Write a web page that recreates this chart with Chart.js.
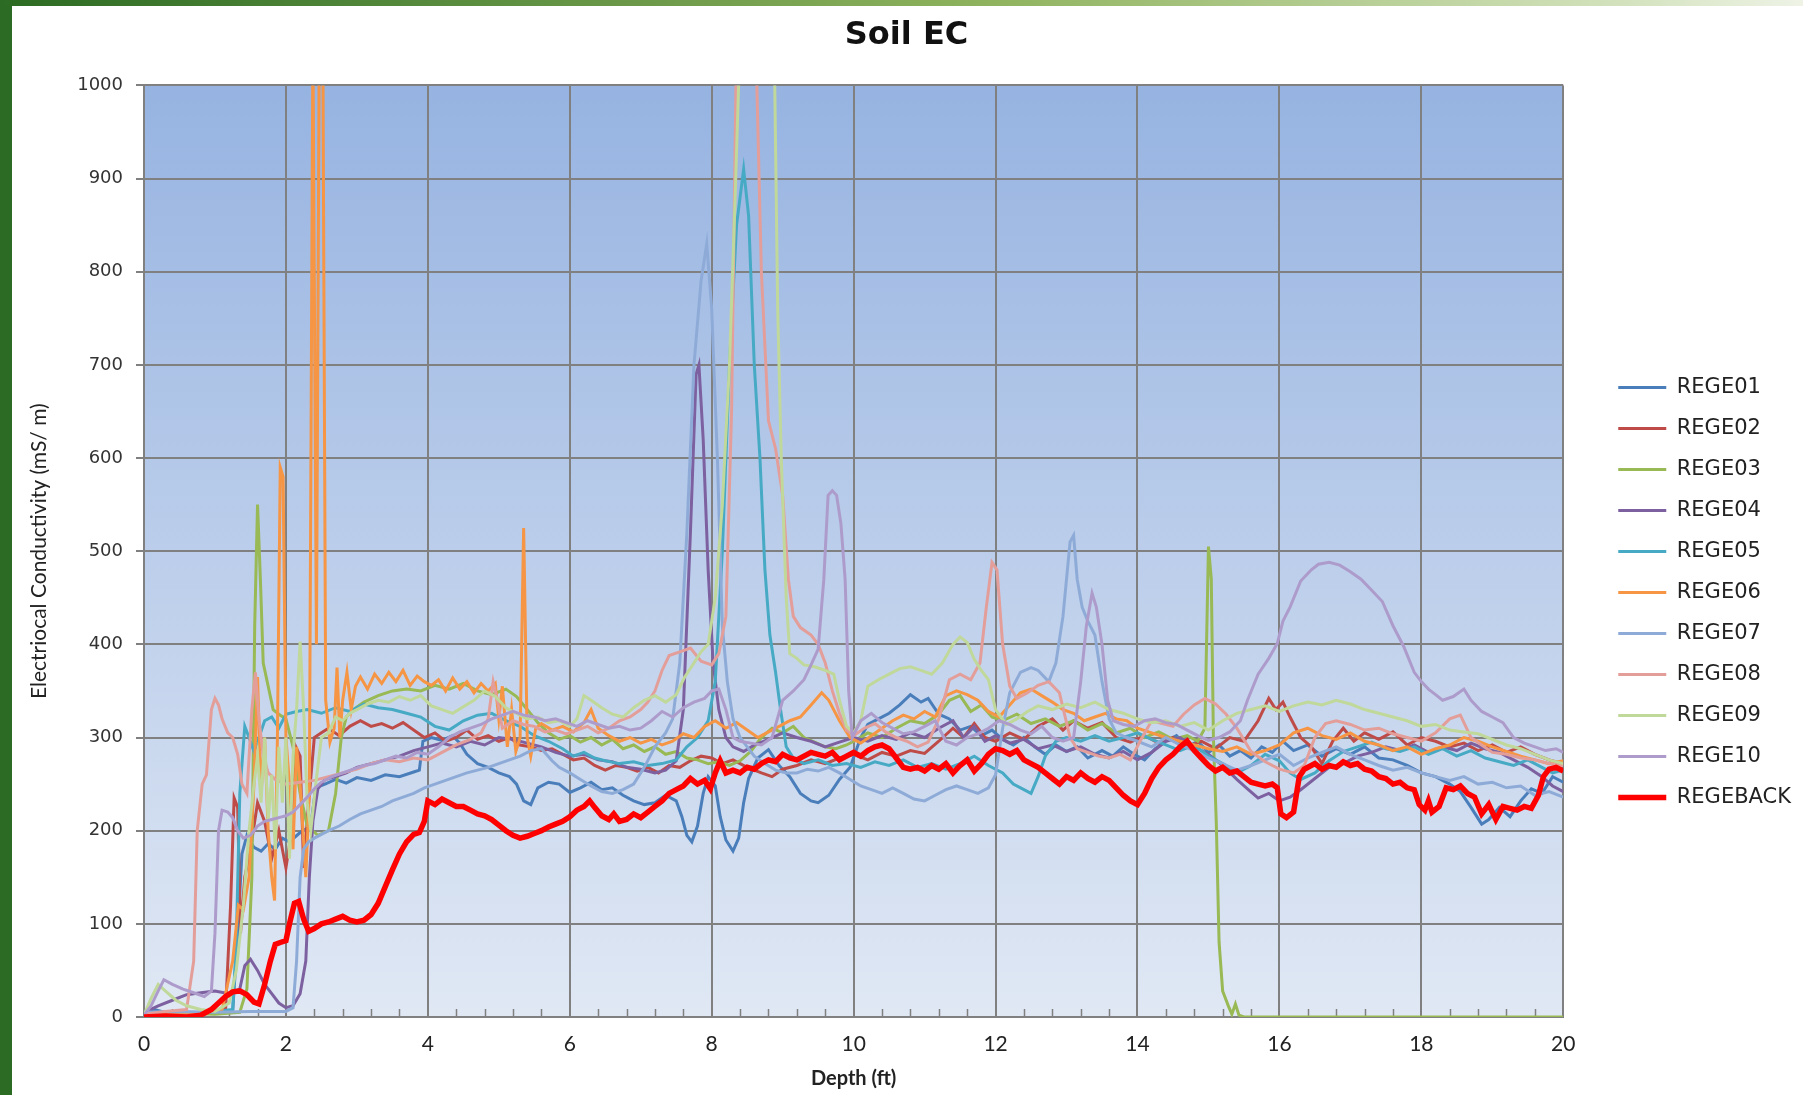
<!DOCTYPE html>
<html>
<head>
<meta charset="utf-8">
<title>Soil EC</title>
<script src="https://cdn.jsdelivr.net/npm/chart.js@4.4.1/dist/chart.umd.min.js"></script>
<style>
  html, body { margin: 0; padding: 0; background: #fff; }
  #wrap { position: relative; width: 1803px; height: 1095px; }
  #leftBar { position: absolute; left: 0; top: 0; width: 12px; height: 1095px; background: #2c6b23; }
  #topBar { position: absolute; left: 0; top: 0; width: 1803px; height: 6px;
            background: linear-gradient(to right, #2c6b23, #8fb35e 55%, #d3e2bd 90%, #eef3e6); }
</style>
</head>
<body>
<div id="wrap">
  <canvas id="chart"></canvas>
  <div id="leftBar"></div>
  <div id="topBar"></div>
</div>
<script>
// depth (ft), EC (mS/m) pairs
const rege01 = [[0,3],[0.15,8],[0.3,5],[0.6,3],[1.0,4],[1.25,6],[1.32,90],[1.38,175],[1.45,195],[1.55,182],[1.65,178],[1.75,186],[1.85,180],[1.95,192],[2.05,188],[2.2,198],[2.35,205],[2.42,246],[2.55,250],[2.7,255],[2.85,251],[3.0,257],[3.2,254],[3.4,260],[3.6,258],[3.8,263],[3.88,265],[3.93,296],[4.05,300],[4.2,297],[4.35,302],[4.45,294],[4.55,282],[4.7,272],[4.85,268],[5.0,262],[5.15,258],[5.25,250],[5.35,232],[5.45,228],[5.55,246],[5.7,252],[5.85,250],[6.0,241],[6.15,246],[6.3,252],[6.45,244],[6.6,246],[6.75,238],[6.9,232],[7.05,228],[7.2,230],[7.35,238],[7.5,232],[7.58,215],[7.65,195],[7.72,188],[7.8,205],[7.88,240],[7.95,258],[8.05,248],[8.12,215],[8.2,190],[8.3,178],[8.38,192],[8.45,230],[8.52,256],[8.65,278],[8.8,287],[8.95,270],[9.1,258],[9.25,240],[9.4,232],[9.5,230],[9.65,238],[9.8,255],[9.95,268],[10.1,300],[10.2,314],[10.35,320],[10.5,326],[10.65,335],[10.8,346],[10.95,338],[11.05,342],[11.2,325],[11.35,320],[11.5,308],[11.65,312],[11.8,302],[11.95,308],[12.1,298],[12.25,292],[12.4,300],[12.55,290],[12.7,282],[12.85,292],[13.0,285],[13.15,290],[13.3,278],[13.5,286],[13.65,280],[13.8,290],[13.95,282],[14.1,276],[14.25,288],[14.4,296],[14.55,302],[14.7,290],[14.85,296],[15.0,284],[15.15,292],[15.3,280],[15.45,286],[15.6,278],[15.75,290],[15.9,284],[16.05,296],[16.2,286],[16.4,292],[16.6,280],[16.8,288],[17.0,282],[17.2,290],[17.4,278],[17.6,276],[17.8,270],[18.0,262],[18.2,258],[18.4,250],[18.55,242],[18.7,225],[18.85,207],[18.95,212],[19.1,225],[19.25,215],[19.4,232],[19.55,245],[19.7,240],[19.85,258],[20,252]];
const rege02 = [[0,2],[0.4,4],[0.8,3],[1.15,8],[1.22,120],[1.27,235],[1.32,225],[1.36,90],[1.42,150],[1.5,180],[1.6,230],[1.7,210],[1.8,170],[1.9,200],[2.0,160],[2.08,200],[2.14,290],[2.2,280],[2.25,160],[2.32,230],[2.4,300],[2.5,305],[2.6,310],[2.75,302],[2.9,312],[3.05,318],[3.2,312],[3.35,315],[3.5,310],[3.65,316],[3.8,308],[3.95,300],[4.1,305],[4.25,296],[4.4,300],[4.55,308],[4.7,298],[4.85,302],[5.0,296],[5.15,300],[5.3,292],[5.45,290],[5.6,286],[5.75,288],[5.9,282],[6.05,276],[6.2,278],[6.35,270],[6.5,265],[6.65,270],[6.8,268],[6.95,264],[7.1,268],[7.25,262],[7.4,270],[7.55,268],[7.7,275],[7.85,280],[8.0,278],[8.15,272],[8.3,276],[8.5,268],[8.7,262],[8.85,258],[9.0,266],[9.2,270],[9.4,276],[9.6,272],[9.8,278],[10.0,282],[10.2,276],[10.4,284],[10.6,280],[10.8,286],[11.0,283],[11.2,296],[11.4,310],[11.55,300],[11.7,315],[11.85,300],[12.0,296],[12.2,305],[12.4,298],[12.6,312],[12.8,320],[12.95,308],[13.1,318],[13.3,310],[13.5,316],[13.7,300],[13.9,295],[14.1,302],[14.3,294],[14.5,300],[14.7,290],[14.9,296],[15.1,288],[15.3,300],[15.5,296],[15.7,318],[15.85,342],[15.95,330],[16.05,338],[16.15,322],[16.3,300],[16.45,290],[16.6,272],[16.75,296],[16.9,310],[17.05,296],[17.2,305],[17.4,298],[17.6,306],[17.8,292],[18.0,300],[18.2,296],[18.4,290],[18.6,294],[18.8,286],[19.0,292],[19.2,284],[19.4,290],[19.6,282],[19.8,276],[20,272]];
const rege03 = [[0,2],[0.5,4],[1.0,3],[1.35,5],[1.45,30],[1.52,150],[1.56,420],[1.6,550],[1.64,470],[1.68,380],[1.75,355],[1.82,330],[1.9,325],[2.0,320],[2.1,290],[2.2,240],[2.3,205],[2.45,195],[2.6,200],[2.7,240],[2.78,300],[2.85,322],[2.95,330],[3.1,338],[3.3,345],[3.5,350],[3.7,352],[3.9,350],[4.1,356],[4.3,352],[4.5,358],[4.7,350],[4.9,346],[5.1,352],[5.25,344],[5.4,330],[5.55,316],[5.7,305],[5.85,298],[6.0,302],[6.15,295],[6.3,300],[6.45,292],[6.6,298],[6.75,288],[6.9,292],[7.05,285],[7.2,290],[7.35,282],[7.5,285],[7.65,278],[7.8,276],[7.95,272],[8.1,274],[8.25,270],[8.4,275],[8.55,285],[8.7,300],[8.85,310],[9.0,305],[9.15,312],[9.3,300],[9.45,295],[9.6,290],[9.75,288],[9.9,292],[10.05,298],[10.2,305],[10.4,300],[10.6,310],[10.8,318],[11.0,315],[11.2,325],[11.35,340],[11.5,345],[11.65,328],[11.8,335],[11.95,322],[12.1,318],[12.3,325],[12.5,315],[12.7,320],[12.9,312],[13.1,318],[13.3,308],[13.5,315],[13.7,305],[13.9,310],[14.1,300],[14.3,306],[14.5,298],[14.7,302],[14.85,296],[14.95,310],[15.0,505],[15.04,470],[15.07,300],[15.11,210],[15.15,80],[15.2,28],[15.28,12],[15.33,3],[15.38,14],[15.43,2],[15.5,0],[20,0]];
const rege04 = [[0,5],[0.2,12],[0.4,18],[0.6,24],[0.8,26],[1.0,28],[1.2,25],[1.35,30],[1.42,55],[1.5,62],[1.6,50],[1.7,35],[1.8,25],[1.9,15],[2.0,10],[2.1,12],[2.2,25],[2.28,60],[2.33,150],[2.38,210],[2.45,245],[2.55,255],[2.7,258],[2.85,262],[3.0,268],[3.2,272],[3.4,276],[3.6,280],[3.8,286],[4.0,290],[4.2,294],[4.4,290],[4.6,296],[4.8,292],[5.0,300],[5.2,298],[5.4,294],[5.6,290],[5.8,284],[6.0,280],[6.2,282],[6.4,276],[6.6,274],[6.8,268],[7.0,266],[7.2,262],[7.35,265],[7.5,275],[7.6,330],[7.7,520],[7.78,690],[7.82,700],[7.88,620],[7.95,480],[8.02,380],[8.1,330],[8.2,300],[8.3,290],[8.45,285],[8.6,292],[8.8,298],[9.0,305],[9.2,300],[9.4,296],[9.6,290],[9.8,295],[10.0,300],[10.2,296],[10.4,302],[10.6,298],[10.8,305],[11.0,300],[11.2,310],[11.4,318],[11.55,300],[11.7,312],[11.85,296],[12.0,302],[12.2,294],[12.4,298],[12.6,288],[12.8,292],[13.0,285],[13.2,290],[13.4,282],[13.6,278],[13.8,285],[14.0,276],[14.2,284],[14.4,296],[14.6,300],[14.8,290],[15.0,282],[15.2,270],[15.4,255],[15.55,245],[15.7,235],[15.85,240],[16.0,232],[16.15,236],[16.3,244],[16.5,256],[16.7,268],[16.9,272],[17.1,280],[17.3,284],[17.5,290],[17.7,286],[17.9,292],[18.1,284],[18.3,290],[18.5,286],[18.7,294],[18.9,288],[19.1,284],[19.3,276],[19.5,268],[19.7,258],[19.85,248],[20,242]];
const rege05 = [[0,3],[0.3,6],[0.6,4],[1.0,6],[1.25,8],[1.3,80],[1.35,240],[1.42,312],[1.48,300],[1.55,285],[1.62,300],[1.7,318],[1.8,322],[1.9,310],[2.0,325],[2.15,328],[2.3,330],[2.5,326],[2.7,332],[2.9,328],[3.1,336],[3.3,332],[3.5,330],[3.7,326],[3.9,322],[4.1,312],[4.3,308],[4.5,318],[4.7,324],[4.9,326],[5.1,318],[5.3,312],[5.5,302],[5.7,296],[5.9,288],[6.05,280],[6.2,284],[6.35,278],[6.5,275],[6.7,272],[6.9,274],[7.1,270],[7.3,272],[7.5,276],[7.65,290],[7.8,300],[7.95,318],[8.05,360],[8.15,500],[8.25,700],[8.35,850],[8.45,910],[8.52,860],[8.6,700],[8.68,600],[8.75,480],[8.82,410],[8.9,370],[8.97,330],[9.05,290],[9.15,278],[9.3,272],[9.5,276],[9.7,270],[9.9,272],[10.1,268],[10.3,274],[10.5,270],[10.7,276],[10.9,268],[11.1,272],[11.3,266],[11.5,272],[11.7,280],[11.9,270],[12.1,262],[12.25,250],[12.4,244],[12.5,240],[12.6,258],[12.7,280],[12.85,296],[13.0,300],[13.2,296],[13.4,302],[13.6,296],[13.8,300],[14.0,305],[14.2,298],[14.4,292],[14.6,286],[14.8,292],[15.0,280],[15.2,272],[15.4,262],[15.6,270],[15.8,282],[16.0,275],[16.15,262],[16.3,255],[16.5,262],[16.7,275],[16.9,285],[17.1,290],[17.3,295],[17.5,288],[17.7,285],[17.9,290],[18.1,282],[18.3,288],[18.5,280],[18.7,286],[18.9,278],[19.1,274],[19.3,270],[19.5,276],[19.7,268],[19.85,262],[20,265]];
const rege06 = [[0,2],[0.4,5],[0.8,4],[1.1,8],[1.25,60],[1.33,120],[1.4,115],[1.48,150],[1.55,250],[1.6,365],[1.65,240],[1.7,300],[1.75,200],[1.8,150],[1.84,125],[1.88,300],[1.92,590],[1.96,580],[2.0,300],[2.05,250],[2.1,180],[2.15,290],[2.2,250],[2.28,150],[2.33,240],[2.38,1050],[2.43,400],[2.47,1050],[2.52,1050],[2.56,340],[2.62,295],[2.68,310],[2.72,375],[2.76,300],[2.8,340],[2.86,370],[2.92,330],[2.98,355],[3.05,365],[3.15,352],[3.25,368],[3.35,358],[3.45,370],[3.55,360],[3.65,372],[3.75,356],[3.85,366],[3.95,360],[4.05,356],[4.15,362],[4.25,350],[4.35,364],[4.45,352],[4.55,360],[4.65,348],[4.75,358],[4.85,350],[4.95,358],[5.0,320],[5.05,355],[5.12,290],[5.18,330],[5.24,285],[5.3,300],[5.35,525],[5.4,300],[5.45,280],[5.52,310],[5.6,315],[5.75,308],[5.9,312],[6.05,306],[6.2,316],[6.3,330],[6.4,310],[6.55,302],[6.7,296],[6.85,300],[7.0,294],[7.15,298],[7.3,292],[7.45,296],[7.6,304],[7.75,300],[7.9,312],[8.05,318],[8.2,310],[8.35,316],[8.5,308],[8.65,300],[8.8,306],[8.95,312],[9.1,318],[9.25,322],[9.4,335],[9.55,348],[9.65,340],[9.8,318],[9.95,300],[10.1,294],[10.25,302],[10.4,310],[10.55,318],[10.7,324],[10.85,320],[11.0,328],[11.15,322],[11.3,345],[11.45,350],[11.6,346],[11.75,340],[11.9,328],[12.05,322],[12.2,335],[12.35,348],[12.5,352],[12.65,345],[12.8,338],[12.95,330],[13.1,326],[13.25,318],[13.4,322],[13.55,326],[13.7,320],[13.85,318],[14.0,310],[14.2,305],[14.4,300],[14.6,296],[14.8,292],[15.0,288],[15.2,285],[15.4,290],[15.6,282],[15.8,286],[16.0,292],[16.2,305],[16.4,310],[16.6,302],[16.8,298],[17.0,305],[17.2,296],[17.4,292],[17.6,286],[17.8,290],[18.0,282],[18.2,288],[18.4,292],[18.6,300],[18.8,296],[19.0,290],[19.2,285],[19.4,280],[19.6,276],[19.8,272],[20,275]];
const rege07 = [[0,5],[0.5,6],[1.0,5],[1.5,6],[2.0,6],[2.1,10],[2.15,60],[2.2,150],[2.25,180],[2.32,188],[2.4,192],[2.5,196],[2.6,200],[2.75,205],[2.9,212],[3.05,218],[3.2,222],[3.35,226],[3.5,232],[3.65,236],[3.8,240],[3.95,246],[4.1,250],[4.25,254],[4.4,258],[4.55,262],[4.7,265],[4.85,268],[5.0,272],[5.15,276],[5.3,280],[5.45,286],[5.6,288],[5.75,275],[5.85,268],[6.0,262],[6.15,255],[6.3,248],[6.45,242],[6.6,240],[6.75,244],[6.9,250],[7.05,268],[7.2,290],[7.35,305],[7.45,320],[7.55,380],[7.65,520],[7.75,700],[7.85,790],[7.93,830],[8.0,760],[8.08,600],[8.15,420],[8.22,360],[8.3,320],[8.4,300],[8.5,290],[8.6,280],[8.75,272],[8.9,265],[9.05,262],[9.2,262],[9.35,266],[9.5,264],[9.65,268],[9.8,262],[9.95,255],[10.1,248],[10.25,244],[10.4,240],[10.55,246],[10.7,240],[10.85,234],[11.0,232],[11.15,238],[11.3,244],[11.45,248],[11.6,244],[11.75,240],[11.9,246],[12.0,260],[12.1,310],[12.2,348],[12.35,370],[12.5,375],[12.6,372],[12.75,360],[12.85,380],[12.95,430],[13.05,510],[13.1,517],[13.15,470],[13.22,440],[13.3,425],[13.4,410],[13.5,360],[13.6,320],[13.7,305],[13.85,300],[14.0,296],[14.2,290],[14.4,300],[14.6,292],[14.8,286],[15.0,278],[15.2,272],[15.4,265],[15.6,270],[15.8,276],[16.0,282],[16.2,270],[16.4,278],[16.6,284],[16.8,290],[17.0,282],[17.2,276],[17.4,270],[17.6,265],[17.8,268],[18.0,262],[18.2,258],[18.4,254],[18.6,258],[18.8,250],[19.0,252],[19.2,246],[19.4,248],[19.6,238],[19.8,242],[20,236]];
const rege08 = [[0,3],[0.3,6],[0.6,8],[0.7,60],[0.75,200],[0.82,250],[0.88,260],[0.95,330],[1.0,342],[1.05,335],[1.1,320],[1.18,305],[1.25,300],[1.32,282],[1.38,250],[1.45,240],[1.52,330],[1.57,370],[1.62,320],[1.68,280],[1.75,262],[1.85,255],[2.0,250],[2.2,252],[2.4,254],[2.6,258],[2.8,262],[3.0,266],[3.2,272],[3.4,276],[3.6,274],[3.8,278],[4.0,276],[4.2,284],[4.4,292],[4.6,298],[4.75,305],[4.85,320],[4.92,360],[4.98,340],[5.05,310],[5.2,318],[5.35,314],[5.5,312],[5.65,306],[5.8,308],[5.95,304],[6.1,308],[6.25,312],[6.4,305],[6.55,310],[6.7,318],[6.85,322],[7.0,330],[7.1,338],[7.2,350],[7.3,372],[7.4,388],[7.55,392],[7.7,396],[7.85,382],[8.0,378],[8.1,390],[8.2,430],[8.28,650],[8.35,1050],[8.62,1050],[8.7,800],[8.8,640],[8.9,610],[9.0,560],[9.08,470],[9.15,430],[9.25,418],[9.4,410],[9.5,400],[9.6,380],[9.7,350],[9.8,326],[9.9,308],[10.0,302],[10.15,310],[10.3,315],[10.45,306],[10.6,300],[10.75,296],[10.9,290],[11.05,295],[11.2,320],[11.35,362],[11.5,368],[11.65,362],[11.78,380],[11.87,440],[11.95,488],[12.02,480],[12.1,400],[12.2,355],[12.3,342],[12.45,348],[12.6,356],[12.75,360],[12.9,348],[13.05,300],[13.15,288],[13.3,284],[13.45,280],[13.6,278],[13.75,282],[13.9,276],[14.05,298],[14.2,318],[14.35,315],[14.5,312],[14.65,325],[14.8,335],[14.95,342],[15.1,336],[15.25,325],[15.4,310],[15.6,285],[15.8,274],[16.0,266],[16.2,262],[16.35,270],[16.5,300],[16.65,315],[16.8,318],[17.0,314],[17.2,308],[17.4,310],[17.6,304],[17.8,300],[18.0,296],[18.2,305],[18.4,320],[18.55,324],[18.7,300],[18.85,292],[19.0,284],[19.2,282],[19.4,278],[19.6,276],[19.8,272],[20,270]];
const rege09 = [[0,2],[0.1,20],[0.2,35],[0.3,28],[0.45,18],[0.6,12],[0.8,8],[1.0,6],[1.2,15],[1.3,50],[1.4,120],[1.48,200],[1.55,250],[1.6,280],[1.65,230],[1.7,300],[1.75,210],[1.8,260],[1.85,180],[1.9,290],[1.95,230],[2.0,300],[2.05,170],[2.1,280],[2.15,330],[2.2,403],[2.25,330],[2.3,230],[2.35,200],[2.42,250],[2.5,300],[2.6,305],[2.7,322],[2.8,318],[2.9,326],[3.0,330],[3.15,336],[3.3,340],[3.45,338],[3.6,344],[3.75,340],[3.9,345],[4.05,334],[4.2,330],[4.35,326],[4.5,333],[4.65,340],[4.8,350],[4.95,344],[5.1,332],[5.25,326],[5.4,320],[5.55,322],[5.7,316],[5.85,318],[6.0,312],[6.1,320],[6.2,345],[6.3,340],[6.45,332],[6.6,325],[6.75,322],[6.9,332],[7.05,340],[7.2,345],[7.35,338],[7.5,346],[7.62,365],[7.75,380],[7.85,392],[7.95,400],[8.05,450],[8.15,550],[8.25,700],[8.33,880],[8.4,1050],[8.88,1050],[8.93,760],[8.98,600],[9.05,450],[9.1,390],[9.2,385],[9.3,378],[9.45,376],[9.6,372],[9.72,368],[9.8,340],[9.9,312],[10.0,305],[10.1,318],[10.2,355],[10.35,362],[10.5,368],[10.65,374],[10.8,376],[10.95,372],[11.1,368],[11.25,380],[11.4,400],[11.5,408],[11.6,402],[11.7,384],[11.8,372],[11.9,362],[12.0,330],[12.15,314],[12.3,320],[12.45,328],[12.6,334],[12.8,330],[13.0,336],[13.2,332],[13.4,338],[13.6,330],[13.8,326],[14.0,320],[14.2,316],[14.4,318],[14.6,312],[14.8,316],[15.0,308],[15.2,318],[15.4,326],[15.6,330],[15.8,334],[16.0,328],[16.2,334],[16.4,338],[16.6,335],[16.8,340],[17.0,336],[17.2,330],[17.4,326],[17.6,322],[17.8,318],[18.0,312],[18.2,314],[18.4,308],[18.6,306],[18.8,304],[19.0,298],[19.2,292],[19.4,288],[19.6,282],[19.8,276],[20,272]];
const rege10 = [[0,2],[0.1,12],[0.2,28],[0.28,40],[0.4,35],[0.55,30],[0.7,26],[0.85,22],[0.95,28],[1.0,90],[1.05,200],[1.1,222],[1.18,220],[1.25,214],[1.32,200],[1.4,192],[1.5,195],[1.6,205],[1.7,210],[1.8,212],[1.9,214],[2.0,216],[2.1,220],[2.2,228],[2.3,236],[2.4,245],[2.5,252],[2.65,258],[2.8,262],[2.95,266],[3.1,270],[3.25,272],[3.4,276],[3.55,280],[3.7,278],[3.85,284],[4.0,282],[4.15,290],[4.3,300],[4.45,306],[4.6,310],[4.75,314],[4.9,320],[5.05,324],[5.2,328],[5.35,324],[5.5,322],[5.65,318],[5.8,320],[5.95,316],[6.1,312],[6.25,318],[6.4,314],[6.55,310],[6.7,312],[6.85,308],[7.0,310],[7.15,318],[7.3,328],[7.45,322],[7.6,332],[7.75,338],[7.9,342],[8.0,350],[8.1,352],[8.2,330],[8.3,300],[8.4,296],[8.55,294],[8.7,292],[8.85,300],[9.0,340],[9.15,350],[9.3,362],[9.4,378],[9.5,395],[9.58,470],[9.64,560],[9.7,565],[9.76,560],[9.82,530],[9.88,470],[9.93,350],[9.98,300],[10.1,318],[10.25,326],[10.4,316],[10.55,310],[10.7,304],[10.85,306],[11.0,312],[11.15,318],[11.3,296],[11.45,292],[11.6,300],[11.75,304],[11.9,310],[12.05,318],[12.2,314],[12.35,308],[12.5,304],[12.65,312],[12.8,300],[12.95,296],[13.1,300],[13.2,360],[13.28,420],[13.36,455],[13.42,440],[13.5,400],[13.58,340],[13.66,318],[13.8,314],[13.95,312],[14.1,318],[14.25,320],[14.4,316],[14.55,314],[14.7,308],[14.85,302],[15.0,297],[15.15,300],[15.3,306],[15.45,318],[15.55,340],[15.7,368],[15.85,385],[15.97,401],[16.05,425],[16.15,440],[16.3,468],[16.45,480],[16.55,486],[16.7,488],[16.85,485],[17.0,478],[17.15,470],[17.3,458],[17.45,446],[17.6,420],[17.75,398],[17.9,370],[18.0,360],[18.1,352],[18.2,346],[18.3,340],[18.45,344],[18.6,352],[18.7,340],[18.85,328],[19.0,322],[19.15,316],[19.3,300],[19.45,294],[19.6,290],[19.75,286],[19.9,288],[20,284]];
const regeBack = [[0,0],[0.3,1],[0.6,0],[0.8,2],[0.95,8],[1.05,15],[1.15,22],[1.25,27],[1.35,28],[1.45,24],[1.55,16],[1.62,14],[1.7,35],[1.78,60],[1.85,78],[1.92,80],[2.0,82],[2.05,100],[2.12,122],[2.18,124],[2.25,105],[2.32,92],[2.4,95],[2.5,100],[2.6,102],[2.7,105],[2.8,108],[2.9,104],[3.0,102],[3.1,104],[3.2,110],[3.3,122],[3.4,140],[3.5,158],[3.6,175],[3.7,188],[3.8,196],[3.88,198],[3.95,210],[4.0,232],[4.1,228],[4.2,234],[4.3,230],[4.4,226],[4.5,226],[4.6,222],[4.7,218],[4.8,216],[4.9,212],[5.0,206],[5.1,200],[5.2,195],[5.3,192],[5.4,194],[5.5,197],[5.6,200],[5.7,204],[5.8,207],[5.9,210],[6.0,215],[6.1,222],[6.2,226],[6.28,232],[6.35,225],[6.45,216],[6.55,212],[6.62,218],[6.7,210],[6.8,212],[6.9,218],[7.0,214],[7.1,220],[7.2,226],[7.3,232],[7.4,240],[7.5,244],[7.6,248],[7.7,256],[7.8,250],[7.9,254],[7.98,245],[8.05,262],[8.12,275],[8.2,262],[8.3,265],[8.4,262],[8.5,268],[8.6,266],[8.7,272],[8.8,276],[8.9,274],[9.0,282],[9.1,278],[9.2,276],[9.3,280],[9.4,284],[9.5,282],[9.6,280],[9.7,284],[9.8,276],[9.9,280],[10.0,284],[10.1,280],[10.2,286],[10.3,290],[10.4,292],[10.5,288],[10.6,278],[10.7,268],[10.8,266],[10.9,268],[11.0,264],[11.1,270],[11.2,266],[11.3,272],[11.4,262],[11.5,270],[11.6,276],[11.7,264],[11.8,272],[11.9,282],[12.0,288],[12.1,286],[12.2,282],[12.3,286],[12.4,276],[12.5,272],[12.6,268],[12.7,262],[12.8,256],[12.9,250],[13.0,258],[13.1,254],[13.2,262],[13.3,256],[13.4,252],[13.5,258],[13.6,254],[13.7,246],[13.8,238],[13.9,232],[14.0,228],[14.1,240],[14.2,256],[14.3,268],[14.4,276],[14.5,282],[14.6,290],[14.7,296],[14.8,286],[14.9,278],[15.0,270],[15.1,264],[15.2,268],[15.3,262],[15.4,264],[15.5,258],[15.6,252],[15.7,250],[15.8,248],[15.9,250],[15.97,246],[16.02,218],[16.1,214],[16.2,220],[16.28,258],[16.35,266],[16.5,272],[16.6,266],[16.7,270],[16.8,268],[16.9,274],[17.0,270],[17.1,272],[17.2,266],[17.3,264],[17.4,258],[17.5,256],[17.6,250],[17.7,252],[17.8,246],[17.9,244],[17.97,228],[18.05,222],[18.1,232],[18.15,220],[18.25,226],[18.35,246],[18.45,244],[18.55,248],[18.65,240],[18.75,236],[18.85,218],[18.95,228],[19.05,212],[19.15,226],[19.25,224],[19.35,222],[19.45,226],[19.55,224],[19.65,238],[19.72,258],[19.8,266],[19.9,268],[20,264]];

const seriesNames = ["REGE01", "REGE02", "REGE03", "REGE04", "REGE05", "REGE06", "REGE07", "REGE08", "REGE09", "REGE10", "REGEBACK"];
const seriesData = [rege01, rege02, rege03, rege04, rege05, rege06, rege07, rege08, rege09, rege10, regeBack];
const seriesColors = ["#4a7ebb", "#be4b48", "#98b954", "#7d60a0", "#46aac5", "#f69544", "#8eabd8", "#e39e9a", "#c0d89a", "#ad9ccb", "#ff0000"];

const depthTicks = [0, 2, 4, 6, 8, 10, 12, 14, 16, 18, 20];
const ecTicks = [0, 100, 200, 300, 400, 500, 600, 700, 800, 900, 1000];

// blue gradient behind the plot, like the Excel chart area fill
const plotBackground = {
  id: "plotBackground",
  beforeDraw(chart) {
    const { ctx, chartArea: a } = chart;
    const g = ctx.createLinearGradient(0, a.top, 0, a.bottom);
    g.addColorStop(0, "#96b3e1");
    g.addColorStop(1, "#e0e8f4");
    ctx.save();
    ctx.fillStyle = g;
    ctx.fillRect(a.left, a.top, a.right - a.left, a.bottom - a.top);
    ctx.restore();
  }
};

// small inward tick marks along the depth axis
const minorTicks = {
  id: "minorTicks",
  beforeDatasetsDraw(chart) {
    const { ctx, chartArea: a, scales } = chart;
    ctx.save();
    ctx.strokeStyle = "#808080";
    ctx.lineWidth = 1.5;
    ctx.beginPath();
    for (let k = 1; k < 50; k++) {
      if (k % 5 === 0) continue;
      const px = Math.round(scales.x.getPixelForValue(k * 0.4)) + 0.5;
      ctx.moveTo(px, a.bottom);
      ctx.lineTo(px, a.bottom - 8);
    }
    ctx.stroke();
    ctx.restore();
  }
};

const datasets = seriesData.map((pts, i) => ({
  label: seriesNames[i],
  data: pts.map(p => ({ x: p[0], y: p[1] })),
  borderColor: seriesColors[i],
  backgroundColor: seriesColors[i],
  borderWidth: i === 10 ? 5.5 : 3,
  pointRadius: 0,
  tension: 0,
  order: seriesData.length - i
}));

new Chart(document.getElementById("chart"), {
  type: "line",
  data: { datasets },
  plugins: [plotBackground, minorTicks],
  options: {
    responsive: true,
    maintainAspectRatio: false,
    animation: false,
    layout: { padding: { left: 12, right: 2, top: 0, bottom: 0 } },
    plugins: {
      title: {
        display: true,
        text: "Soil EC",
        color: "#111",
        font: { family: "DejaVu Sans", size: 32, weight: "bold" },
        padding: { top: 16, bottom: 31 }
      },
      legend: {
        position: "right",
        title: { display: true, text: " ", font: { size: 10 }, padding: { top: 0, bottom: 78 } },
        labels: {
          usePointStyle: true,
          pointStyle: "line",
          pointStyleWidth: 48,
          padding: 20,
          color: "#222",
          font: { family: "DejaVu Sans", size: 21 },
          sort: (a, b) => a.datasetIndex - b.datasetIndex
        }
      },
      tooltip: { enabled: false }
    },
    scales: {
      x: {
        type: "linear",
        min: 0,
        max: 20,
        afterBuildTicks: s => { s.ticks = depthTicks.map(v => ({ value: v })); },
        ticks: { color: "#222", font: { family: "Lato", size: 21 }, padding: 15, maxRotation: 0 },
        grid: { color: "#808080", lineWidth: 2, drawTicks: false },
        border: { color: "#808080", width: 2 },
        title: {
          display: true,
          text: "Depth (ft)",
          color: "#222",
          font: { family: "Lato", size: 20, weight: "bold" },
          padding: { top: 0, bottom: 4 }
        },
        afterFit: s => { s.height = 78; }
      },
      y: {
        min: 0,
        max: 1000,
        afterBuildTicks: s => { s.ticks = ecTicks.map(v => ({ value: v })); },
        ticks: { color: "#333", font: { family: "DejaVu Sans", size: 18 }, padding: 13, callback: v => String(v) },
        grid: { color: "#808080", lineWidth: 2, tickLength: 8 },
        border: { color: "#808080", width: 2 },
        title: {
          display: true,
          text: "Electriocal Conductivity (mS/ m)",
          color: "#222",
          font: { family: "Lato", size: 21 },
          padding: { top: 15, bottom: 0 }
        },
        afterFit: s => { s.width = 132; }
      },
      gap: {
        type: "linear",
        position: "right",
        grid: { display: false },
        ticks: { display: false },
        border: { display: false },
        afterFit: s => { s.width = 35; }
      }
    }
  }
});
</script>
</body>
</html>
